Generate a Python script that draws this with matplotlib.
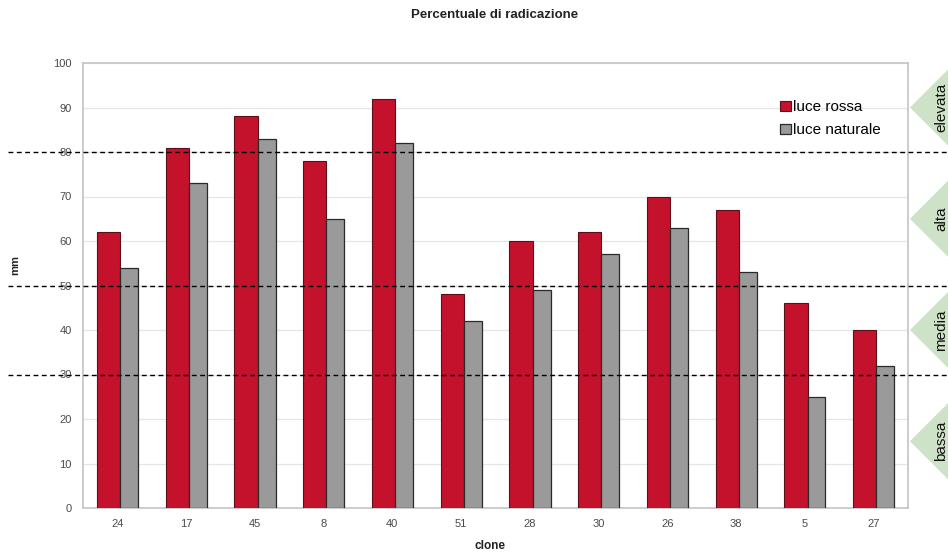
import matplotlib
matplotlib.use("Agg")
import matplotlib.pyplot as plt
from matplotlib.patches import Polygon
from matplotlib.transforms import blended_transform_factory
import numpy as np

cloni = ["24", "17", "45", "8", "40", "51", "28", "30", "26", "38", "5", "27"]
luce_rossa = [62, 81, 88, 78, 92, 48, 60, 62, 70, 67, 46, 40]
luce_naturale = [54, 73, 83, 65, 82, 42, 49, 57, 63, 53, 25, 32]

fasce = ["bassa", "media", "alta", "elevata"]
limiti = [0, 30, 50, 80, 100]

plt.rcParams["font.family"] = ["Liberation Sans", "DejaVu Sans"]

fig = plt.figure(figsize=(9.48, 5.52), dpi=100)
ax = fig.add_axes([83 / 948, 1 - 508 / 552, 825 / 948, 445 / 552])

x = np.arange(len(cloni))
red_col = "#c4122d"
grey_col = "#9a9a9a"
ax.bar(x - 0.297, luce_rossa, width=0.337, align="edge", color=red_col,
       edgecolor="#5a1018", linewidth=0.8, label="luce rossa", zorder=3)
ax.bar(x + 0.04, luce_naturale, width=0.26, align="edge", color=grey_col,
       edgecolor="#2a2a2a", linewidth=0.9, label="luce naturale", zorder=3)

ax.set_xlim(-0.5, len(cloni) - 0.5)
ax.set_ylim(0, 100)
ax.set_yticks(range(0, 101, 10))
ax.set_xticks(x)
ax.set_xticklabels(cloni)
ax.tick_params(axis="both", length=0, labelsize=8, colors="#4a4a4a", pad=8)
ax.grid(axis="y", color="#e6e6e6", linewidth=0.9, zorder=0)
for s in ax.spines.values():
    s.set_color("#c4c4c4")
    s.set_linewidth(1.2)

fig.text(495 / 948, 1 - 15 / 552, "Percentuale di radicazione", ha="center",
         va="center", fontsize=9.5, fontweight="bold", color="#222222")
fig.text(15 / 948, 1 - 265 / 552, "mm", ha="center", va="center",
         rotation=90, fontsize=8, fontweight="bold", color="#222222")
fig.text(490 / 948, 1 - 546 / 552, "clone", ha="center", va="center",
         fontsize=8.5, fontweight="bold", color="#222222")

leg = ax.legend(loc="upper left", bbox_to_anchor=(0.838, 0.93), frameon=False,
                fontsize=11, handlelength=0.7, handleheight=0.7,
                handletextpad=0.1, labelspacing=0.6, borderaxespad=0)

# Band separators running across the whole figure
blend = blended_transform_factory(fig.transFigure, ax.transData)
for y in limiti[1:-1]:
    ax.plot([8 / 948, 1.0], [y, y], transform=blend, color="black",
            linestyle=(0, (3.5, 2.5)), linewidth=1.0, clip_on=False, zorder=5)

# Band markers on the right side
pix_per_unit = 445 / 100
half = 38 / pix_per_unit
for nome, lo, hi in zip(fasce, limiti[:-1], limiti[1:]):
    yc = (lo + hi) / 2
    tri = Polygon([(910 / 948, yc), (1.0, yc + half), (1.0, yc - half)],
                  closed=True, transform=blend, facecolor="#cde2c6",
                  edgecolor="none", clip_on=False, zorder=1)
    fig.add_artist(tri)
    fig.text(941 / 948, yc, nome, transform=blend, rotation=90, ha="center",
             va="center", fontsize=11, color="#111111")

fig.savefig("out.png", dpi=100)
